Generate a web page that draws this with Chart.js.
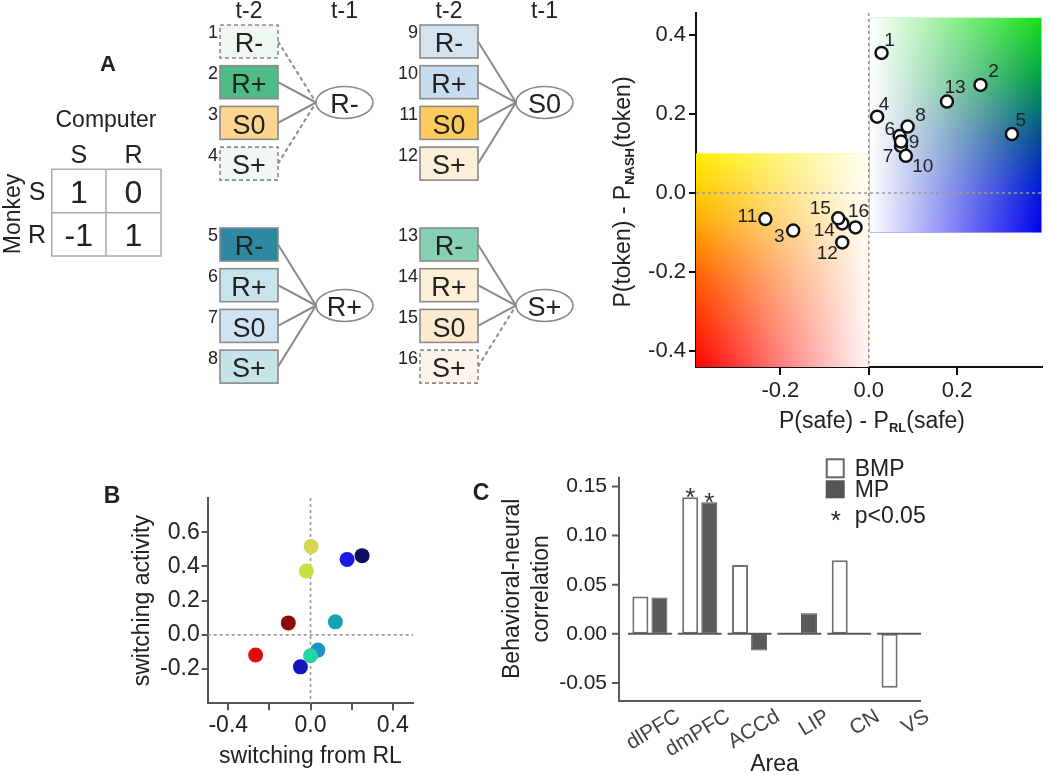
<!doctype html>
<html>
<head>
<meta charset="utf-8">
<title>token game figure</title>
<script src="https://cdn.jsdelivr.net/npm/chart.js@4.4.1/dist/chart.umd.min.js"></script>
<style>
  html, body { margin: 0; padding: 0; background: #fff; overflow: hidden; }
  #page { position: relative; width: 1050px; height: 775px; overflow: hidden; }
  canvas, svg { position: absolute; }
  svg { left: 0; top: 0; pointer-events: none; font-family: "Liberation Sans", Arial, sans-serif; }
</style>
</head>
<body>
<div id="page">
  <canvas id="chartA" width="470" height="450" style="left:580px;top:0"></canvas>
  <canvas id="chartB" width="340" height="305" style="left:90px;top:470px"></canvas>
  <canvas id="chartC" width="560" height="345" style="left:490px;top:440px"></canvas>
  <svg id="overlay" width="1050" height="775"></svg>
</div>
<script>
// ---- panel A: payoff matrix ----
var payoffCols = ["S", "R"];
var payoffRows = ["S", "R"];
var payoff = [[1, 0], [-1, 1]];

// ---- panel A: conditions (t-2 choice/outcome, grouped by t-1) ----
var prevChoice = ["R-", "R+", "S0", "S+"];
var lastChoice = ["R-", "R+", "S0", "S+"];
var condColors = ["#eef8f1", "#4fbb86", "#fcd590", "#f1f8f3",
                  "#2f88a2", "#c9e3ec", "#d0e3f3", "#c5e4e7",
                  "#d3e3ef", "#c8dcef", "#fccb5e", "#fcefd9",
                  "#86d1b2", "#fcefd6", "#fcebcf", "#fcf4e8"];
var dashedConds = [1, 4, 16];

// ---- panel A: scatter ----
var condLabels = ["1", "2", "3", "4", "5", "6", "7", "8", "9", "10", "11", "12", "13", "14", "15", "16"];
var safeDiff  = [0.029, 0.253, -0.171, 0.019, 0.324, 0.070, 0.073, 0.088, 0.073, 0.084, -0.234, -0.060, 0.177, -0.060, -0.069, -0.030];
var tokenDiff = [0.354, 0.273, -0.095, 0.193, 0.149, 0.144, 0.119, 0.168, 0.130, 0.094, -0.066, -0.125, 0.231, -0.077, -0.064, -0.087];
var aXTicks = [-0.2, 0, 0.2];
var aYTicks = [-0.4, -0.2, 0, 0.2, 0.4];

// ---- panel B ----
var switchRL  = [0.003, -0.020, 0.178, 0.251, -0.108, 0.121, -0.267, 0.036, 0.000, -0.049];
var switchAct = [0.517, 0.373, 0.441, 0.463, 0.070, 0.076, -0.118, -0.089, -0.122, -0.187];
var switchColors = ["#d6d64e", "#c6e03e", "#1a1ae4", "#0e0e5e", "#8e0a0a", "#16a4ac", "#e00c0c", "#1c92c6", "#24d6a6", "#1414bc"];
var bXTicks = [-0.4, -0.2, 0, 0.2, 0.4];
var bXLabeled = [-0.4, 0, 0.4];
var bYTicks = [-0.2, 0, 0.2, 0.4, 0.6];

// ---- panel C ----
var areas = ["dlPFC", "dmPFC", "ACCd", "LIP", "CN", "VS"];
var corrBMP = [0.038, 0.139, 0.070, 0, 0.075, -0.055];
var corrMP  = [0.037, 0.134, -0.017, 0.021, 0, 0];
var sigBMP = [false, true, false, false, false, false];
var sigMP  = [false, true, false, false, false, false];
var cYTicks = [-0.05, 0, 0.05, 0.10, 0.15];

var FONT = '"Liberation Sans", Arial, sans-serif';
Chart.defaults.font.family = FONT;
Chart.defaults.color = "#222";

// fix the size of an axis box so that the plot area lands where it should
function fixBox(size, dim) {
    return function(scale) {
        scale[dim] = size;
        scale.paddingLeft = scale.paddingRight = scale.paddingTop = scale.paddingBottom = 0;
    };
}
function setTicks(values) {
    return function(scale) {
        scale.ticks = values.map(function(v) { return {value: v}; });
    };
}

// ---------- SVG overlay: letters, payoff matrix, condition tree ----------
var NS = "http://www.w3.org/2000/svg";
var svg = document.getElementById("overlay");
function el(tag, attrs, text) {
    var e = document.createElementNS(NS, tag);
    for (var k in attrs) e.setAttribute(k, attrs[k]);
    if (text != null) e.textContent = text;
    svg.appendChild(e);
    return e;
}
function label(x, y, text, size, extra) {
    var a = {x: x, y: y + size * 0.36, "text-anchor": "middle", "font-size": size, fill: "#222"};
    for (var k in extra) a[k] = extra[k];
    return el("text", a, text);
}
function richLabel(x, y, parts, size, rotate) {
    var t = el("text", {x: x, y: y + size * 0.36, "text-anchor": "middle", "font-size": size, fill: "#222"});
    if (rotate) t.setAttribute("transform", "rotate(" + rotate + " " + x + " " + y + ")");
    var shifted = false;
    parts.forEach(function(p) {
        var s = document.createElementNS(NS, "tspan");
        if (p.sub) {
            s.setAttribute("font-size", Math.round(size * 0.56));
            s.setAttribute("font-weight", "bold");
            s.setAttribute("dy", 4);
            shifted = true;
        } else if (shifted) {
            s.setAttribute("dy", -4);
            shifted = false;
        }
        s.textContent = p.text;
        t.appendChild(s);
    });
}

label(108, 63, "A", 22, {"font-weight": "bold"});
label(112, 495, "B", 23, {"font-weight": "bold"});
label(481, 492, "C", 23, {"font-weight": "bold"});

// payoff matrix
var tx0 = 51.7, tx1 = 106, tx2 = 161, ty0 = 169.3, ty1 = 212.7, ty2 = 256;
label(106, 119, "Computer", 23);
label((tx0 + tx1) / 2, 154, payoffCols[0], 25);
label((tx1 + tx2) / 2, 154, payoffCols[1], 25);
label(37, (ty0 + ty1) / 2, payoffRows[0], 25);
label(37, (ty1 + ty2) / 2, payoffRows[1], 25);
var mk = label(12, 214, "Monkey", 23);
mk.setAttribute("transform", "rotate(-90 12 214)");
el("rect", {x: tx0, y: ty0, width: tx2 - tx0, height: ty2 - ty0, fill: "none", stroke: "#aaa", "stroke-width": 1.5});
el("line", {x1: tx1, y1: ty0, x2: tx1, y2: ty2, stroke: "#aaa", "stroke-width": 1.5});
el("line", {x1: tx0, y1: ty1, x2: tx2, y2: ty1, stroke: "#aaa", "stroke-width": 1.5});
payoff.forEach(function(row, r) {
    row.forEach(function(v, c) {
        label(c ? (tx1 + tx2) / 2 : (tx0 + tx1) / 2, r ? (ty1 + ty2) / 2 : (ty0 + ty1) / 2, String(v), 32);
    });
});

// condition tree: four groups, one per t-1 outcome
var groupOrigin = [[220, 25], [220, 228], [420, 25], [420, 228]];
var boxW = 58, boxH = 33, pitch = 40.7;
lastChoice.forEach(function(last, g) {
    var gx = groupOrigin[g][0], gy = groupOrigin[g][1];
    var cx = gx + 124.5, cy = gy + 77.5, rx = 28.5, ry = 16;
    if (g % 2 === 0) {
        label(gx + 29, 10, "t-2", 23);
        label(cx, 10, "t-1", 23);
    }
    prevChoice.forEach(function(prev, k) {
        var cond = g * 4 + k + 1;
        var by = gy + k * pitch;
        var dashed = dashedConds.indexOf(cond) >= 0;
        el("line", {x1: gx + boxW, y1: by + boxH / 2, x2: cx - rx, y2: cy, stroke: "#8a8a8a",
                    "stroke-width": 2, "stroke-dasharray": dashed ? "4 3" : "none"});
        el("rect", {x: gx, y: by, width: boxW, height: boxH, fill: condColors[cond - 1],
                    stroke: "#8a8a8a", "stroke-width": 1.6, "stroke-dasharray": dashed ? "4 3" : "none"});
        label(gx + boxW / 2, by + boxH / 2 + 1, prev, 27);
        label(gx - 2, by + 7, String(cond), 18, {"text-anchor": "end"});
    });
    el("ellipse", {cx: cx, cy: cy, rx: rx, ry: ry, fill: "#fff", stroke: "#8a8a8a", "stroke-width": 1.6});
    label(cx, cy + 1, last, 27);
});

// axis titles of the A scatter (they carry subscripts)
richLabel(872, 420, [{text: "P(safe) - P"}, {text: "RL", sub: true}, {text: "(safe)"}], 23);
richLabel(622, 192, [{text: "P(token) - P"}, {text: "NASH", sub: true}, {text: "(token)"}], 23, -90);

// ---------- chart A: deviation scatter ----------
var warmBox = {x0: -0.391, x1: 0.0, y0: -0.44, y1: 0.1};
var coolBox = {x0: 0.002, x1: 0.391, y0: -0.1, y1: 0.443};

function shadeBox(chart, box, stops, whiteAtLeft) {
    var ctx = chart.ctx, x = chart.scales.x, y = chart.scales.y;
    var l = x.getPixelForValue(box.x0), r = x.getPixelForValue(box.x1);
    var t = y.getPixelForValue(box.y1), b = y.getPixelForValue(box.y0);
    var v = ctx.createLinearGradient(0, t, 0, b);
    stops.forEach(function(s) { v.addColorStop(s[0], s[1]); });
    ctx.fillStyle = v;
    ctx.fillRect(l, t, r - l, b - t);
    var h = ctx.createLinearGradient(l, 0, r, 0);
    h.addColorStop(0, whiteAtLeft ? "rgba(255,255,255,1)" : "rgba(255,255,255,0)");
    h.addColorStop(0.5, "rgba(255,255,255,0.5)");
    h.addColorStop(1, whiteAtLeft ? "rgba(255,255,255,0)" : "rgba(255,255,255,0.97)");
    ctx.fillStyle = h;
    ctx.fillRect(l, t, r - l, b - t);
}

function zeroLines(chart, color) {
    var ctx = chart.ctx, a = chart.chartArea;
    var px = chart.scales.x.getPixelForValue(0), py = chart.scales.y.getPixelForValue(0);
    ctx.save();
    ctx.strokeStyle = color;
    ctx.lineWidth = 1.6;
    ctx.setLineDash([3, 3]);
    ctx.beginPath();
    ctx.moveTo(px, a.top); ctx.lineTo(px, a.bottom);
    ctx.moveTo(a.left, py); ctx.lineTo(a.right, py);
    ctx.stroke();
    ctx.restore();
}

var condLabelOffsets = [[8, -12], [13, -13], [-14, 6], [7, -12], [9, -13], [-10, -6], [-13, 11], [13, -11],
                        [13, 1], [17, 11], [-18, -2], [-15, 11], [8, -14], [-18, 7], [-18, -10], [3, -16]];

var aPlugin = {
    id: "aDecor",
    beforeDatasetsDraw: function(chart) {
        var ctx = chart.ctx;
        ctx.save();
        shadeBox(chart, warmBox, [[0, "#fff000"], [0.3, "#ffb000"], [0.6, "#ff5a00"], [1, "#ff0000"]], false);
        shadeBox(chart, coolBox, [[0, "#18e018"], [0.3, "#009a48"], [0.55, "#004e92"], [0.8, "#0018d8"], [1, "#0000f0"]], true);
        ctx.restore();
        zeroLines(chart, "#9a9a9a");
    },
    afterDatasetsDraw: function(chart) {
        var ctx = chart.ctx, pts = chart.getDatasetMeta(0).data;
        ctx.save();
        ctx.font = "19px " + FONT;
        ctx.fillStyle = "#222";
        ctx.textAlign = "center";
        ctx.textBaseline = "middle";
        pts.forEach(function(p, i) {
            ctx.fillText(condLabels[i], p.x + condLabelOffsets[i][0], p.y + condLabelOffsets[i][1]);
        });
        ctx.restore();
    }
};

new Chart(document.getElementById("chartA"), {
    type: "scatter",
    data: {
        datasets: [{
            data: safeDiff.map(function(v, i) { return {x: v, y: tokenDiff[i]}; }),
            pointRadius: 6,
            pointBorderWidth: 2.5,
            pointBackgroundColor: "#fff",
            pointBorderColor: "#111"
        }]
    },
    options: {
        responsive: false,
        animation: false,
        layout: {padding: {top: 13, right: 2, left: 0, bottom: 0}},
        plugins: {legend: {display: false}, tooltip: {enabled: false}},
        scales: {
            x: {
                type: "linear", min: -0.391, max: 0.391,
                afterBuildTicks: setTicks(aXTicks), afterFit: fixBox(83, "height"),
                border: {color: "#111", width: 2},
                grid: {drawOnChartArea: false, color: "#111", lineWidth: 2, tickLength: 8},
                ticks: {font: {size: 22}, padding: 3, maxRotation: 0, autoSkip: false,
                        callback: function(v) { return v.toFixed(1); }}
            },
            y: {
                type: "linear", min: -0.44, max: 0.455,
                afterBuildTicks: setTicks(aYTicks), afterFit: fixBox(116, "width"),
                border: {color: "#111", width: 2},
                grid: {drawOnChartArea: false, color: "#111", lineWidth: 2, tickLength: 7},
                ticks: {font: {size: 22}, padding: 3, autoSkip: false,
                        callback: function(v) { return v.toFixed(1); }}
            }
        }
    },
    plugins: [aPlugin]
});

// ---------- chart B: switching scatter ----------
new Chart(document.getElementById("chartB"), {
    type: "scatter",
    data: {
        datasets: [{
            data: switchRL.map(function(v, i) { return {x: v, y: switchAct[i]}; }),
            pointRadius: 7.5,
            pointBorderWidth: 0,
            pointBackgroundColor: switchColors
        }]
    },
    options: {
        responsive: false,
        animation: false,
        layout: {padding: {top: 28, right: 16.7, left: 0, bottom: 0}},
        plugins: {legend: {display: false}, tooltip: {enabled: false}},
        scales: {
            x: {
                type: "linear", min: -0.5, max: 0.5,
                afterBuildTicks: setTicks(bXTicks), afterFit: fixBox(71.7, "height"),
                border: {color: "#555", width: 2},
                grid: {drawOnChartArea: false, color: "#555", lineWidth: 2, tickLength: 7},
                ticks: {font: {size: 23}, padding: 2, maxRotation: 0, autoSkip: false,
                        callback: function(v) { return bXLabeled.indexOf(v) >= 0 ? v.toFixed(1) : ""; }},
                title: {display: true, text: "switching from RL", font: {size: 23}, padding: {top: 0, bottom: 4.5}}
            },
            y: {
                type: "linear", min: -0.4, max: 0.8,
                afterBuildTicks: setTicks(bYTicks), afterFit: fixBox(117.7, "width"),
                border: {color: "#555", width: 2},
                grid: {drawOnChartArea: false, color: "#555", lineWidth: 2, tickLength: 6},
                ticks: {font: {size: 23}, padding: 2, autoSkip: false,
                        callback: function(v) { return v.toFixed(1); }},
                title: {display: true, text: "switching activity", font: {size: 23}, padding: {top: 38.7, bottom: 0}}
            }
        }
    },
    plugins: [{
        id: "bZero",
        beforeDatasetsDraw: function(chart) { zeroLines(chart, "#9a9a9a"); }
    }]
});

// ---------- chart C: behavioral-neural correlation bars ----------
var cPlugin = {
    id: "cDecor",
    afterDatasetsDraw: function(chart) {
        var ctx = chart.ctx, a = chart.chartArea, x = chart.scales.x, y = chart.scales.y;
        var axisX = a.left - 6;
        ctx.save();
        ctx.strokeStyle = "#5a5a5a";
        ctx.lineWidth = 2;
        // axes
        ctx.beginPath();
        ctx.moveTo(axisX, a.top); ctx.lineTo(axisX, a.bottom);
        ctx.lineTo(a.right - 3, a.bottom);
        cYTicks.forEach(function(v) {
            var py = y.getPixelForValue(v);
            ctx.moveTo(axisX - 7, py); ctx.lineTo(axisX, py);
        });
        ctx.stroke();
        // zero baseline under each area
        var half = 0.44 * (x.width / areas.length), py0 = y.getPixelForValue(0);
        ctx.beginPath();
        areas.forEach(function(name, i) {
            var cx = x.getPixelForValue(i);
            ctx.moveTo(cx - half, py0); ctx.lineTo(cx + half, py0);
        });
        ctx.stroke();
        // slanted area names under the axis
        ctx.fillStyle = "#444";
        ctx.font = "21px " + FONT;
        ctx.textAlign = "right";
        ctx.textBaseline = "top";
        areas.forEach(function(name, i) {
            ctx.save();
            ctx.translate(x.getPixelForValue(i) + 23, a.bottom + 5);
            ctx.rotate(-31 * Math.PI / 180);
            ctx.fillText(name, 0, 0);
            ctx.restore();
        });
        // significance stars
        ctx.fillStyle = "#333";
        ctx.font = "26px " + FONT;
        ctx.textAlign = "center";
        ctx.textBaseline = "alphabetic";
        [sigBMP, sigMP].forEach(function(sig, d) {
            chart.getDatasetMeta(d).data.forEach(function(bar, i) {
                if (sig[i]) ctx.fillText("*", bar.x, bar.y + 9);
            });
        });
        // legend
        var lx = 336.7, ly = 19.3;
        ctx.fillStyle = "#fff";
        ctx.strokeStyle = "#666";
        ctx.lineWidth = 2;
        ctx.fillRect(lx, ly, 17, 18); ctx.strokeRect(lx, ly, 17, 18);
        ctx.fillStyle = "#555";
        ctx.fillRect(lx - 1, ly + 21, 19, 18);
        ctx.fillStyle = "#222";
        ctx.font = "23px " + FONT;
        ctx.textAlign = "left";
        ctx.textBaseline = "middle";
        ctx.fillText("BMP", lx + 28, ly + 10);
        ctx.fillText("MP", lx + 28, ly + 31);
        ctx.fillText("p<0.05", lx + 28, ly + 57);
        ctx.font = "26px " + FONT;
        ctx.textAlign = "center";
        ctx.textBaseline = "alphabetic";
        ctx.fillText("*", lx + 9, ly + 70);
        ctx.restore();
    }
};

new Chart(document.getElementById("chartC"), {
    type: "bar",
    data: {
        labels: areas,
        datasets: [{
            label: "BMP",
            data: corrBMP,
            backgroundColor: "#fff",
            borderColor: "#707070",
            borderWidth: function(c) { return c.raw === 0 ? 0 : 2; },
            borderSkipped: false
        }, {
            label: "MP",
            data: corrMP,
            backgroundColor: "#5a5a5a",
            borderColor: "#555",
            borderWidth: function(c) { return c.raw === 0 ? 0 : 1; },
            borderSkipped: false
        }]
    },
    options: {
        responsive: false,
        animation: false,
        categoryPercentage: 0.765,
        barPercentage: 0.84,
        layout: {padding: {top: 36.7, right: 126, left: 0, bottom: 0}},
        plugins: {legend: {display: false}, tooltip: {enabled: false}},
        scales: {
            x: {
                afterFit: fixBox(84, "height"),
                border: {display: false},
                grid: {display: false, drawTicks: false},
                ticks: {display: false},
                title: {display: true, text: "Area", font: {size: 23}, padding: {top: 0, bottom: 6.2}}
            },
            y: {
                min: -0.0684, max: 0.160,
                afterBuildTicks: setTicks(cYTicks), afterFit: fixBox(135, "width"),
                border: {display: false},
                grid: {display: false, drawTicks: false},
                ticks: {font: {size: 21}, padding: 18, autoSkip: false,
                        callback: function(v) { return v.toFixed(2); }},
                title: {display: true, text: ["Behavioral-neural", "correlation"],
                        font: {size: 23, lineHeight: 1.25}, padding: {top: 8.6, bottom: 0}}
            }
        }
    },
    plugins: [cPlugin]
});
</script>
</body>
</html>
